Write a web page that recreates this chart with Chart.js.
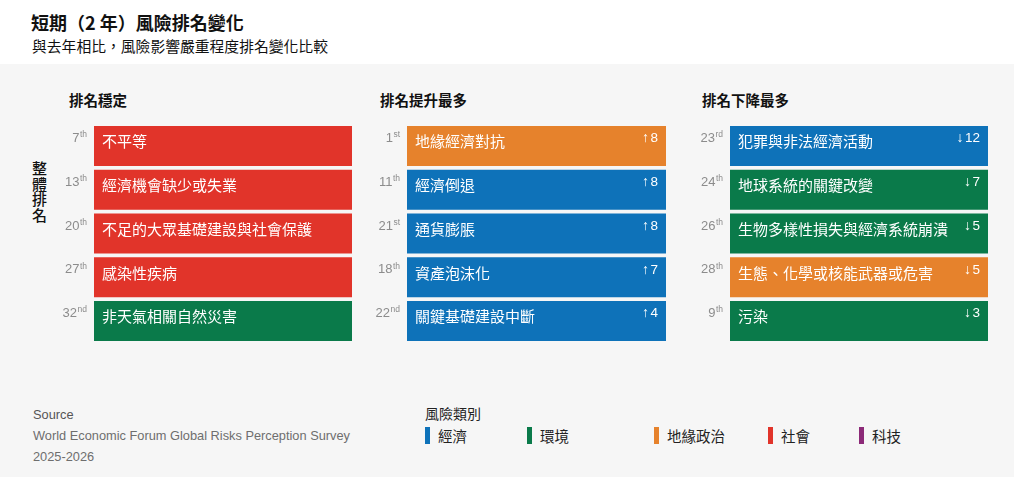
<!DOCTYPE html>
<html lang="zh-Hant">
<head>
  <meta charset="UTF-8" />
  <title>短期（2 年）風險排名變化</title>
  <script src="https://cdn.jsdelivr.net/npm/chart.js"></script>
  <style>
    body {
      margin: 0;
      width: 1014px;
      height: 477px;
      background: #f6f6f6;
      font-family: "Noto Sans CJK TC", sans-serif;
      position: relative;
      overflow: hidden;
      color: #111;
    }
    .abs { position: absolute; white-space: nowrap; }
    .top { left: 0; top: 0; width: 1014px; height: 64px; background: #fff; }
    .title { left: 31px; top: 10px; font-size: 18px; line-height: 24px; font-weight: 700; }
    .subtitle { left: 32px; top: 36px; font-size: 14.8px; line-height: 20px; }
    .panel-title { top: 90px; font-size: 14.5px; line-height: 20px; font-weight: 700; }
    .side { left: 32px; top: 160px; width: 16px; font-size: 15px; line-height: 15.5px; font-weight: 500; white-space: normal; word-break: break-all; }
    .foot { left: 33px; font-family: "Liberation Sans", Arial, sans-serif; font-size: 12.8px; line-height: 16px; color: #6e6e6e; }
    .legend-title { left: 425px; top: 405px; font-size: 14px; line-height: 16px; color: #222; }
    .legend-item { top: 427px; font-size: 14.5px; line-height: 18px; color: #222; }
    .legend-item i { display: inline-block; width: 5px; height: 17px; vertical-align: top; margin-right: 8px; }
    canvas { position: absolute; top: 124px; }
  </style>
</head>
<body>

  <!-- header -->
  <div class="abs top"></div>
  <div class="abs title">短期（2 年）風險排名變化</div>
  <div class="abs subtitle">與去年相比，風險影響嚴重程度排名變化比較</div>

  <div class="abs panel-title" style="left:69px;">排名穩定</div>
  <div class="abs panel-title" style="left:380px;">排名提升最多</div>
  <div class="abs panel-title" style="left:702px;">排名下降最多</div>
  <div class="abs side">整體排名</div>

  <!-- three panels -->
  <canvas id="stableChart" width="302" height="219" style="left:50px;"></canvas>
  <canvas id="riseChart" width="303" height="219" style="left:363px;"></canvas>
  <canvas id="fallChart" width="302" height="219" style="left:686px;"></canvas>

  <!-- footer -->
  <div class="abs foot" style="top:407px; color:#555;">Source</div>
  <div class="abs foot" style="top:428px;">World Economic Forum Global Risks Perception Survey</div>
  <div class="abs foot" style="top:449px;">2025-2026</div>
  <div class="abs legend-title">風險類別</div>
  <div id="legend"></div>

  <script>
    // category colours
    const categories = ['經濟', '環境', '地緣政治', '社會', '科技'];
    const categoryColors = ['#0e72b9', '#0a7a4a', '#e6822c', '#e1342a', '#8c2a78'];
    const legendX = [425, 527, 654, 768, 859];

    // 排名穩定
    const stableRisks = ['不平等', '經濟機會缺少或失業', '不足的大眾基礎建設與社會保護', '感染性疾病', '非天氣相關自然災害'];
    const stableRanks = [7, 13, 20, 27, 32];
    const stableCats = ['社會', '社會', '社會', '社會', '環境'];

    // 排名提升最多
    const riseRisks = ['地緣經濟對抗', '經濟倒退', '通貨膨脹', '資產泡沫化', '關鍵基礎建設中斷'];
    const riseRanks = [1, 11, 21, 18, 22];
    const riseCats = ['地緣政治', '經濟', '經濟', '經濟', '經濟'];
    const riseChanges = [8, 8, 8, 7, 4];

    // 排名下降最多
    const fallRisks = ['犯罪與非法經濟活動', '地球系統的關鍵改變', '生物多樣性損失與經濟系統崩潰', '生態、化學或核能武器或危害', '污染'];
    const fallRanks = [23, 24, 26, 28, 9];
    const fallCats = ['經濟', '環境', '環境', '地緣政治', '環境'];
    const fallChanges = [-12, -7, -5, -5, -3];

    function colorOf(cat) {
      return categoryColors[categories.indexOf(cat)];
    }

    function ordinal(n) {
      const t = n % 100;
      if (t >= 11 && t <= 13) return 'th';
      if (n % 10 === 1) return 'st';
      if (n % 10 === 2) return 'nd';
      if (n % 10 === 3) return 'rd';
      return 'th';
    }

    // risk name, change arrow and overall rank for every row
    const rowText = {
      id: 'rowText',
      afterDatasetsDraw(chart, args, opts) {
        const ctx = chart.ctx;
        const meta = chart.getDatasetMeta(0);
        meta.data.forEach((bar, i) => {
          const top = bar.y - bar.height / 2;
          const left = Math.min(bar.x, bar.base);
          const right = Math.max(bar.x, bar.base);
          ctx.save();
          ctx.textBaseline = 'middle';

          ctx.fillStyle = '#fff';
          ctx.textAlign = 'left';
          ctx.font = '15px "Noto Sans CJK TC"';
          ctx.fillText(chart.data.labels[i], left + 8, top + 15.5);

          if (opts.changes) {
            const c = opts.changes[i];
            ctx.textAlign = 'right';
            ctx.font = '13.5px "Liberation Sans"';
            const num = String(Math.abs(c));
            const nw = ctx.measureText(num).width;
            ctx.fillText(num, right - 8, top + 12.5);
            ctx.font = '14px "Liberation Sans", "DejaVu Sans"';
            ctx.fillText(c > 0 ? '↑' : '↓', right - 9.5 - nw, top + 12.5);
          }

          const r = opts.ranks[i];
          const suf = ordinal(r);
          ctx.fillStyle = '#8c8c8c';
          ctx.textAlign = 'right';
          ctx.font = '8.5px "Liberation Sans"';
          const sw = ctx.measureText(suf).width;
          ctx.fillText(suf, left - 7, top + 9);
          ctx.font = '13px "Liberation Sans"';
          ctx.fillText(String(r), left - 7 - sw - 0.5, top + 12.5);
          ctx.restore();
        });
      }
    };

    function makePanel(id, risks, ranks, cats, changes) {
      new Chart(document.getElementById(id), {
        type: 'bar',
        data: {
          labels: risks,
          datasets: [{
            data: risks.map(() => 1),
            backgroundColor: cats.map(colorOf),
            borderWidth: 0,
            barPercentage: 0.913,
            categoryPercentage: 1
          }]
        },
        options: {
          indexAxis: 'y',
          responsive: false,
          animation: false,
          layout: { padding: { left: 44, right: 0, top: 0, bottom: 0 } },
          scales: {
            x: { display: false, min: 0, max: 1 },
            y: { display: false }
          },
          plugins: {
            legend: { display: false },
            tooltip: { enabled: false },
            rowText: { ranks: ranks, changes: changes }
          }
        },
        plugins: [rowText]
      });
    }

    makePanel('stableChart', stableRisks, stableRanks, stableCats, null);
    makePanel('riseChart', riseRisks, riseRanks, riseCats, riseChanges);
    makePanel('fallChart', fallRisks, fallRanks, fallCats, fallChanges);

    // legend
    const legend = document.getElementById('legend');
    categories.forEach((cat, i) => {
      const el = document.createElement('div');
      el.className = 'abs legend-item';
      el.style.left = legendX[i] + 'px';
      el.innerHTML = '<i style="background:' + categoryColors[i] + '"></i>' + cat;
      legend.appendChild(el);
    });
  </script>

</body>
</html>
